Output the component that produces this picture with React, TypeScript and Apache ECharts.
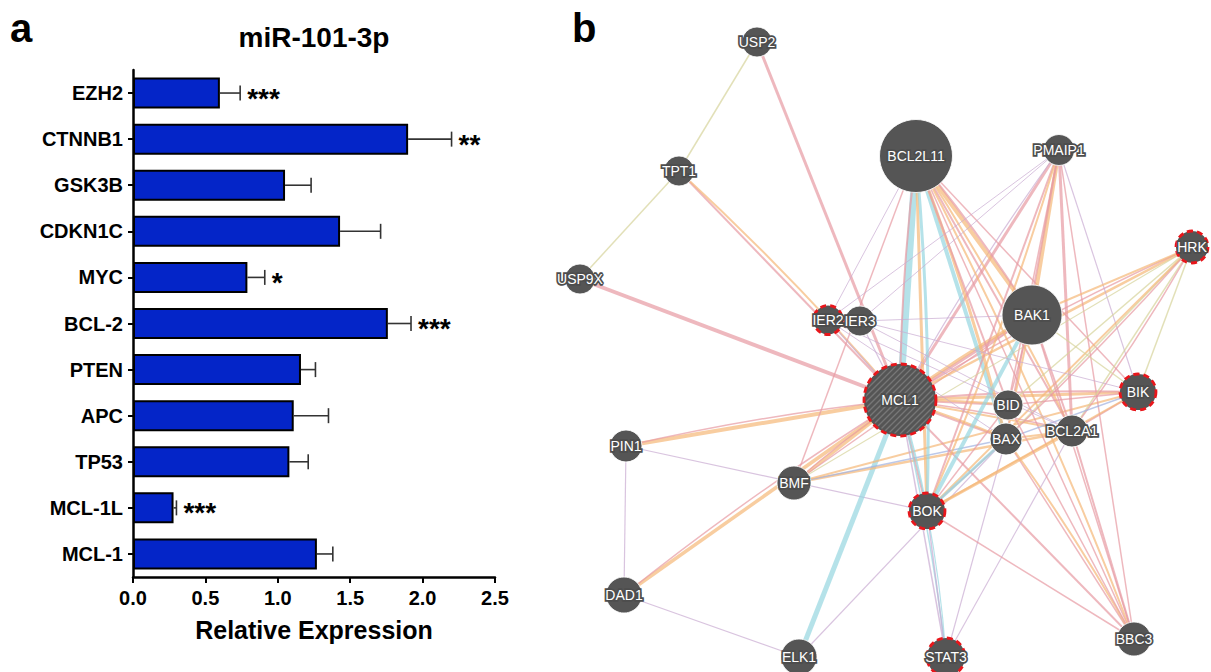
import React, { useEffect, useRef } from "react";
import * as echarts from "echarts";

// ---------- Panel a data ----------
const genes = ["EZH2", "CTNNB1", "GSK3B", "CDKN1C", "MYC", "BCL-2", "PTEN", "APC", "TP53", "MCL-1L", "MCL-1"];
const expression = [0.6, 1.9, 1.05, 1.43, 0.79, 1.76, 1.16, 1.11, 1.08, 0.28, 1.27];
const errorSD = [0.14, 0.3, 0.18, 0.28, 0.12, 0.16, 0.1, 0.24, 0.13, 0.02, 0.11];
const significance = ["***", "**", "", "", "*", "***", "", "", "", "***", ""];
const xMin = 0;
const xMax = 2.5;
const xStep = 0.5;

// ---------- Panel b data (network layout) ----------
const nodeNames = ["USP2", "TPT1", "USP9X", "BCL2L11", "PMAIP1", "HRK", "IER3", "IER2", "BAK1", "MCL1", "BID", "BAX", "BCL2A1", "BIK", "PIN1", "BMF", "BOK", "DAD1", "ELK1", "STAT3", "BBC3"];
const nodeX = [757, 679, 580, 916, 1059, 1192, 860, 828, 1032, 900, 1008, 1006, 1072, 1138, 626, 794, 927, 624, 799, 946, 1134];
const nodeY = [42, 171, 279, 156, 150, 247, 321, 320, 315, 400, 405, 439, 431, 392, 446, 483, 511, 595, 657, 657, 639];
const nodeDiameter = [30, 30, 30, 73, 31, 32, 30, 29, 60, 72, 30, 32, 32, 36, 32, 34, 36, 36, 36, 38, 34];
const queryGenes = ["HRK", "IER2", "MCL1", "BIK", "BOK", "STAT3"];
const hatchedGene = "MCL1";

// interaction type colours
const PHYS = "#e79aa2";
const PRED = "#f5b877";
const COEX = "#c9abd2";
const PATH = "#96d6df";
const DOM = "#d6d39a";
const COLOC = "#9fb1df";

// [source, target, colour, width]
const edges: [string, string, string, number][] = [
  ["USP2", "TPT1", DOM, 1.5],
  ["TPT1", "USP9X", DOM, 1.5],
  ["USP2", "MCL1", PHYS, 3],
  ["TPT1", "MCL1", PHYS, 2],
  ["TPT1", "MCL1", PRED, 2],
  ["USP9X", "MCL1", PHYS, 4],
  ["PIN1", "MCL1", PRED, 4],
  ["PIN1", "MCL1", PHYS, 1.5],
  ["PIN1", "DAD1", COEX, 1.2],
  ["PIN1", "BOK", COEX, 1.2],
  ["DAD1", "MCL1", PRED, 3.5],
  ["DAD1", "MCL1", PHYS, 1.5],
  ["DAD1", "ELK1", COEX, 1.2],
  ["ELK1", "MCL1", PATH, 5],
  ["ELK1", "BAX", COEX, 1.2],
  ["BMF", "MCL1", PRED, 3],
  ["BMF", "MCL1", PHYS, 1.5],
  ["BMF", "BCL2A1", PRED, 2.5],
  ["BMF", "BAK1", PHYS, 1.5],
  ["BMF", "BAX", COLOC, 1.5],
  ["BMF", "BCL2L11", PHYS, 1.5],
  ["BMF", "BIK", PRED, 2],
  ["MCL1", "BCL2L11", PATH, 7],
  ["MCL1", "BCL2L11", PHYS, 2],
  ["MCL1", "BAK1", PHYS, 3],
  ["MCL1", "BAK1", PRED, 3],
  ["MCL1", "BID", PHYS, 2],
  ["MCL1", "BID", PRED, 2],
  ["MCL1", "BAX", PHYS, 2],
  ["MCL1", "BAX", PRED, 2],
  ["MCL1", "BCL2A1", PRED, 2],
  ["MCL1", "BCL2A1", PHYS, 1.5],
  ["MCL1", "BIK", PRED, 3],
  ["MCL1", "BIK", PHYS, 2],
  ["MCL1", "HRK", PRED, 2.5],
  ["MCL1", "HRK", PHYS, 1.5],
  ["MCL1", "PMAIP1", PHYS, 3],
  ["MCL1", "PMAIP1", COEX, 1.2],
  ["MCL1", "BOK", PHYS, 2],
  ["MCL1", "BOK", PATH, 2],
  ["MCL1", "BBC3", PHYS, 2],
  ["MCL1", "IER3", COEX, 1.2],
  ["MCL1", "IER2", COEX, 1.2],
  ["MCL1", "STAT3", COEX, 1.5],
  ["MCL1", "STAT3", PATH, 1.5],
  ["BCL2L11", "BAK1", PRED, 4],
  ["BCL2L11", "BAK1", PHYS, 2],
  ["BCL2L11", "BAX", PATH, 4],
  ["BCL2L11", "BAX", PRED, 3],
  ["BCL2L11", "BID", PHYS, 2],
  ["BCL2L11", "BCL2A1", PHYS, 2],
  ["BCL2L11", "BCL2A1", PRED, 2],
  ["BCL2L11", "BOK", PRED, 3],
  ["BCL2L11", "BOK", PATH, 3],
  ["BCL2L11", "BBC3", PHYS, 1.5],
  ["BCL2L11", "BBC3", PRED, 2],
  ["BCL2L11", "BIK", PHYS, 1.5],
  ["BCL2L11", "IER2", COEX, 1],
  ["PMAIP1", "BAK1", PRED, 4],
  ["PMAIP1", "BAX", PHYS, 2],
  ["PMAIP1", "BCL2A1", PHYS, 3],
  ["PMAIP1", "BOK", PHYS, 2],
  ["PMAIP1", "BOK", PRED, 2],
  ["PMAIP1", "BIK", COEX, 1.2],
  ["PMAIP1", "IER2", COEX, 1],
  ["PMAIP1", "IER3", COEX, 1],
  ["PMAIP1", "BID", PHYS, 1.5],
  ["PMAIP1", "BBC3", PHYS, 1.5],
  ["HRK", "BCL2A1", DOM, 1.5],
  ["HRK", "BCL2A1", PHYS, 1.5],
  ["HRK", "BAX", DOM, 1.5],
  ["HRK", "BOK", PRED, 2],
  ["HRK", "BOK", PHYS, 1.5],
  ["HRK", "BID", DOM, 1.5],
  ["HRK", "BAK1", PRED, 2],
  ["HRK", "BMF", DOM, 1.2],
  ["HRK", "BIK", DOM, 1.5],
  ["BIK", "BCL2A1", PHYS, 2],
  ["BIK", "BAX", COLOC, 1.5],
  ["BIK", "BOK", PRED, 2],
  ["BIK", "BAK1", DOM, 1.5],
  ["BIK", "BID", PHYS, 1.5],
  ["BAK1", "BOK", PATH, 4],
  ["BAK1", "BAX", PRED, 2],
  ["BAK1", "BID", PHYS, 1.5],
  ["BAK1", "BCL2A1", PHYS, 2],
  ["BAK1", "BBC3", PHYS, 1.5],
  ["BAK1", "IER3", COEX, 1],
  ["BAX", "BOK", PATH, 3],
  ["BAX", "BCL2A1", PRED, 2],
  ["BAX", "BBC3", PHYS, 1.5],
  ["BAX", "BBC3", PRED, 2],
  ["BAX", "STAT3", COEX, 1.2],
  ["BCL2A1", "BOK", PRED, 3],
  ["BCL2A1", "BBC3", PHYS, 2],
  ["BCL2A1", "STAT3", COEX, 1.2],
  ["BCL2A1", "IER2", COEX, 1],
  ["BID", "BBC3", PHYS, 1.5],
  ["BID", "BOK", PHYS, 1.5],
  ["BOK", "STAT3", COEX, 1.5],
  ["BOK", "STAT3", PATH, 1.2],
  ["BOK", "BBC3", PHYS, 1.5],
  ["IER3", "BCL2A1", COEX, 1],
  ["IER3", "BIK", COEX, 1],
  ["IER2", "BAX", COEX, 1],
];

const FONT = "'Liberation Sans', Arial, Helvetica, sans-serif";
const LABEL_STYLE = {
  color: "#fff",
  fontSize: 14,
  fontFamily: FONT,
  textBorderColor: "#4d4d4d",
  textBorderWidth: 3.5,
};

export default function App() {
  const ref = useRef<HTMLDivElement>(null);

  useEffect(() => {
    if (!ref.current) return;
    const chart = echarts.init(ref.current, undefined, { renderer: "svg" });

    const seen: Record<string, number> = {};
    const links = edges.map(([s, t, c, w]) => {
      const key = s < t ? s + "|" + t : t + "|" + s;
      const n = seen[key] || 0;
      seen[key] = n + 1;
      const curv = n === 0 ? 0 : (n % 2 === 1 ? 1 : -1) * 0.03 * Math.ceil(n / 2);
      return {
        source: s,
        target: t,
        lineStyle: { color: c, width: w, opacity: 0.7, curveness: curv },
      };
    });

    const nodes = nodeNames.map((name, i) => {
      const isQuery = queryGenes.includes(name);
      return {
        name,
        value: [nodeX[i], nodeY[i]],
        symbolSize: nodeDiameter[i],
        label: { show: name !== hatchedGene },
        itemStyle: isQuery
          ? { color: "#555555", borderColor: "#e8161b", borderWidth: 2.8, borderType: [6, 4] }
          : { color: "#555555", borderColor: "rgba(255,255,255,0.85)", borderWidth: 1 },
      };
    });

    const hi = nodeNames.indexOf(hatchedGene);

    const option: any = {
      animation: false,
      textStyle: { fontFamily: FONT },
      grid: [
        { left: 133, top: 70, width: 362, height: 507, containLabel: false },
        { left: 560, top: 0, width: 651, height: 672, containLabel: false },
      ],
      xAxis: [
        {
          type: "value",
          gridIndex: 0,
          min: xMin,
          max: xMax,
          interval: xStep,
          axisLine: { show: true, lineStyle: { color: "#000", width: 2.5 } },
          axisTick: { show: true, length: 6, lineStyle: { color: "#000", width: 2 } },
          splitLine: { show: false },
          axisLabel: {
            color: "#000",
            fontSize: 20,
            fontWeight: "bold",
            fontFamily: FONT,
            margin: 11,
            showMaxLabel: true,
            formatter: (v: number) => v.toFixed(1),
          },
          name: "Relative Expression",
          nameLocation: "middle",
          nameGap: 40,
          nameTextStyle: { color: "#000", fontSize: 25, fontWeight: "bold", fontFamily: FONT },
        },
        { type: "value", gridIndex: 1, min: 560, max: 1211, show: false },
      ],
      yAxis: [
        {
          type: "category",
          gridIndex: 0,
          data: genes,
          inverse: true,
          axisLine: { show: true, lineStyle: { color: "#000", width: 2.5 } },
          axisTick: { show: true, alignWithLabel: true, length: 5, lineStyle: { color: "#000", width: 2 } },
          axisLabel: { color: "#000", fontSize: 20, fontWeight: "bold", fontFamily: FONT, margin: 10 },
          splitLine: { show: false },
        },
        { type: "value", gridIndex: 1, min: 0, max: 672, inverse: true, show: false },
      ],
      graphic: [
        { type: "text", x: 10, y: 28, style: { text: "a", font: `bold 40px ${FONT}`, fill: "#000", verticalAlign: "middle" } },
        { type: "text", x: 572, y: 28, style: { text: "b", font: `bold 40px ${FONT}`, fill: "#000", verticalAlign: "middle" } },
        { type: "text", x: 314, y: 37, style: { text: "miR-101-3p", font: `bold 28px ${FONT}`, fill: "#000", align: "center", verticalAlign: "middle" } },
      ],
      series: [
        {
          type: "bar",
          xAxisIndex: 0,
          yAxisIndex: 0,
          data: expression,
          barWidth: 31,
          itemStyle: { color: "#0425c8", borderColor: "#000", borderWidth: 2 },
          z: 2,
        },
        {
          type: "custom",
          xAxisIndex: 0,
          yAxisIndex: 0,
          data: genes.map((g, i) => [expression[i], i, errorSD[i]]),
          encode: { x: 0, y: 1 },
          z: 3,
          renderItem: (params: any, api: any) => {
            const v = api.value(0);
            const idx = api.value(1);
            const e = api.value(2);
            const p0 = api.coord([v, idx]);
            const p1 = api.coord([v + e, idx]);
            const sig = significance[params.dataIndex];
            const stroke = { stroke: "#333", lineWidth: 1.6 };
            const children: any[] = [
              { type: "line", shape: { x1: p0[0], y1: p0[1], x2: p1[0], y2: p1[1] }, style: stroke },
              { type: "line", shape: { x1: p1[0], y1: p1[1] - 7.5, x2: p1[0], y2: p1[1] + 7.5 }, style: stroke },
            ];
            if (sig) {
              children.push({
                type: "text",
                x: p1[0] + 7,
                y: p1[1] + 5,
                style: { text: sig, font: `bold 28px ${FONT}`, fill: "#000", align: "left", verticalAlign: "middle" },
              });
            }
            return { type: "group", children };
          },
        },
        {
          type: "graph",
          coordinateSystem: "cartesian2d",
          xAxisIndex: 1,
          yAxisIndex: 1,
          data: nodes,
          links,
          symbol: "circle",
          z: 3,
          label: { show: true, position: "inside", ...LABEL_STYLE },
          emphasis: { disabled: true },
        },
        {
          // hatching on the hatched node, plus its label above the hatch
          type: "custom",
          xAxisIndex: 1,
          yAxisIndex: 1,
          z: 5,
          data: [[nodeX[hi], nodeY[hi], nodeDiameter[hi] / 2]],
          encode: { x: 0, y: 1 },
          renderItem: (params: any, api: any) => {
            const c = api.coord([api.value(0), api.value(1)]);
            const r = api.value(2) - 2;
            const lines: any[] = [];
            for (let k = -2 * r; k <= 2 * r; k += 6) {
              lines.push({
                type: "line",
                shape: { x1: c[0] + k - r, y1: c[1] + r, x2: c[0] + k + r, y2: c[1] - r },
                style: { stroke: "rgba(255,255,255,0.2)", lineWidth: 1.3 },
              });
            }
            return {
              type: "group",
              children: [
                {
                  type: "group",
                  clipPath: { type: "circle", shape: { cx: c[0], cy: c[1], r } },
                  children: lines,
                },
                {
                  type: "text",
                  x: c[0],
                  y: c[1],
                  style: {
                    text: hatchedGene,
                    font: `14px ${FONT}`,
                    fill: "#fff",
                    stroke: "#4d4d4d",
                    lineWidth: 3.5,
                    align: "center",
                    verticalAlign: "middle",
                  },
                },
              ],
            };
          },
        },
      ],
    };

    chart.setOption(option);
    return () => chart.dispose();
  }, []);

  return (
    <div
      ref={ref}
      style={{ position: "fixed", left: 0, top: 0, width: 1211, height: 672, background: "#fff" }}
    />
  );
}
